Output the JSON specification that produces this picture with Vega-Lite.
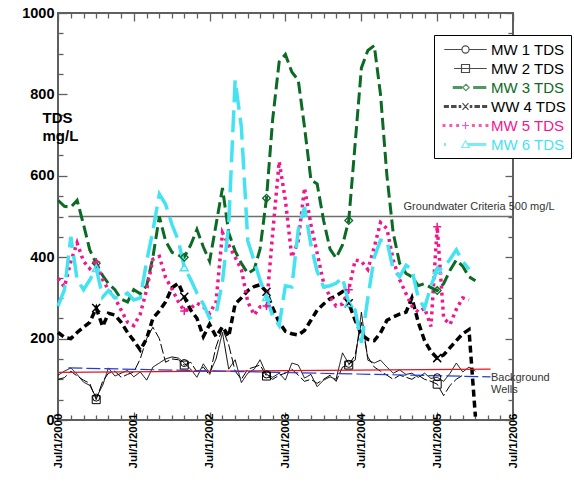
{
"$schema":"https://vega.github.io/schema/vega-lite/v6.json",
"width":455,"height":407,
"autosize":{"type":"none"},
"padding":{"left":58,"top":13,"right":61,"bottom":62},
"datasets":{
"tds":[
{"well":"MW 1 TDS","date":"2000-07-01","tds":110},{"well":"MW 1 TDS","date":"2000-08-01","tds":120},{"well":"MW 1 TDS","date":"2000-09-01","tds":128},{"well":"MW 1 TDS","date":"2000-10-01","tds":112},{"well":"MW 1 TDS","date":"2000-11-01","tds":93},{"well":"MW 1 TDS","date":"2000-12-01","tds":85},
{"well":"MW 1 TDS","date":"2001-01-01","tds":55},{"well":"MW 1 TDS","date":"2001-02-01","tds":85},{"well":"MW 1 TDS","date":"2001-03-01","tds":128},{"well":"MW 1 TDS","date":"2001-04-01","tds":108},{"well":"MW 1 TDS","date":"2001-05-01","tds":115},{"well":"MW 1 TDS","date":"2001-06-01","tds":122},{"well":"MW 1 TDS","date":"2001-07-01","tds":106},{"well":"MW 1 TDS","date":"2001-08-01","tds":118},{"well":"MW 1 TDS","date":"2001-09-01","tds":98},{"well":"MW 1 TDS","date":"2001-10-01","tds":130},{"well":"MW 1 TDS","date":"2001-11-01","tds":140},{"well":"MW 1 TDS","date":"2001-12-01","tds":150},
{"well":"MW 1 TDS","date":"2002-01-01","tds":155},{"well":"MW 1 TDS","date":"2002-02-01","tds":152},{"well":"MW 1 TDS","date":"2002-03-01","tds":140},{"well":"MW 1 TDS","date":"2002-04-01","tds":125},{"well":"MW 1 TDS","date":"2002-05-01","tds":105},{"well":"MW 1 TDS","date":"2002-06-01","tds":138},{"well":"MW 1 TDS","date":"2002-07-01","tds":115},{"well":"MW 1 TDS","date":"2002-08-01","tds":150},{"well":"MW 1 TDS","date":"2002-09-01","tds":215},{"well":"MW 1 TDS","date":"2002-10-01","tds":125},{"well":"MW 1 TDS","date":"2002-11-01","tds":148},{"well":"MW 1 TDS","date":"2002-12-01","tds":92},
{"well":"MW 1 TDS","date":"2003-01-01","tds":115},{"well":"MW 1 TDS","date":"2003-02-01","tds":125},{"well":"MW 1 TDS","date":"2003-03-01","tds":148},{"well":"MW 1 TDS","date":"2003-04-01","tds":112},{"well":"MW 1 TDS","date":"2003-05-01","tds":105},{"well":"MW 1 TDS","date":"2003-06-01","tds":115},{"well":"MW 1 TDS","date":"2003-07-01","tds":98},{"well":"MW 1 TDS","date":"2003-08-01","tds":140},{"well":"MW 1 TDS","date":"2003-09-01","tds":135},{"well":"MW 1 TDS","date":"2003-10-01","tds":103},{"well":"MW 1 TDS","date":"2003-11-01","tds":112},{"well":"MW 1 TDS","date":"2003-12-01","tds":82},
{"well":"MW 1 TDS","date":"2004-01-01","tds":98},{"well":"MW 1 TDS","date":"2004-02-01","tds":106},{"well":"MW 1 TDS","date":"2004-03-01","tds":100},{"well":"MW 1 TDS","date":"2004-04-01","tds":165},{"well":"MW 1 TDS","date":"2004-05-01","tds":138},{"well":"MW 1 TDS","date":"2004-06-01","tds":147},{"well":"MW 1 TDS","date":"2004-07-01","tds":265},{"well":"MW 1 TDS","date":"2004-08-01","tds":147},{"well":"MW 1 TDS","date":"2004-09-01","tds":140},{"well":"MW 1 TDS","date":"2004-10-01","tds":147},{"well":"MW 1 TDS","date":"2004-11-01","tds":130},{"well":"MW 1 TDS","date":"2004-12-01","tds":115},
{"well":"MW 1 TDS","date":"2005-01-01","tds":123},{"well":"MW 1 TDS","date":"2005-02-01","tds":112},{"well":"MW 1 TDS","date":"2005-03-01","tds":115},{"well":"MW 1 TDS","date":"2005-04-01","tds":105},{"well":"MW 1 TDS","date":"2005-05-01","tds":115},{"well":"MW 1 TDS","date":"2005-06-01","tds":102},{"well":"MW 1 TDS","date":"2005-07-01","tds":105},{"well":"MW 1 TDS","date":"2005-08-01","tds":95},{"well":"MW 1 TDS","date":"2005-09-01","tds":115},{"well":"MW 1 TDS","date":"2005-10-01","tds":140},{"well":"MW 1 TDS","date":"2005-11-01","tds":118},{"well":"MW 1 TDS","date":"2005-12-01","tds":130},{"well":"MW 1 TDS","date":"2006-01-01","tds":120},

{"well":"MW 2 TDS","date":"2000-07-01","tds":100},{"well":"MW 2 TDS","date":"2000-08-01","tds":104},{"well":"MW 2 TDS","date":"2000-09-01","tds":120},{"well":"MW 2 TDS","date":"2000-10-01","tds":108},{"well":"MW 2 TDS","date":"2000-11-01","tds":98},{"well":"MW 2 TDS","date":"2000-12-01","tds":90},
{"well":"MW 2 TDS","date":"2001-01-01","tds":50},{"well":"MW 2 TDS","date":"2001-02-01","tds":95},{"well":"MW 2 TDS","date":"2001-03-01","tds":115},{"well":"MW 2 TDS","date":"2001-04-01","tds":120},{"well":"MW 2 TDS","date":"2001-05-01","tds":105},{"well":"MW 2 TDS","date":"2001-06-01","tds":112},{"well":"MW 2 TDS","date":"2001-07-01","tds":118},{"well":"MW 2 TDS","date":"2001-08-01","tds":150},{"well":"MW 2 TDS","date":"2001-09-01","tds":200},{"well":"MW 2 TDS","date":"2001-10-01","tds":228},{"well":"MW 2 TDS","date":"2001-11-01","tds":200},{"well":"MW 2 TDS","date":"2001-12-01","tds":142},
{"well":"MW 2 TDS","date":"2002-01-01","tds":150},{"well":"MW 2 TDS","date":"2002-02-01","tds":148},{"well":"MW 2 TDS","date":"2002-03-01","tds":135},{"well":"MW 2 TDS","date":"2002-04-01","tds":142},{"well":"MW 2 TDS","date":"2002-05-01","tds":118},{"well":"MW 2 TDS","date":"2002-06-01","tds":130},{"well":"MW 2 TDS","date":"2002-07-01","tds":110},{"well":"MW 2 TDS","date":"2002-08-01","tds":180},{"well":"MW 2 TDS","date":"2002-09-01","tds":225},{"well":"MW 2 TDS","date":"2002-10-01","tds":185},{"well":"MW 2 TDS","date":"2002-11-01","tds":120},{"well":"MW 2 TDS","date":"2002-12-01","tds":100},
{"well":"MW 2 TDS","date":"2003-01-01","tds":125},{"well":"MW 2 TDS","date":"2003-02-01","tds":130},{"well":"MW 2 TDS","date":"2003-03-01","tds":135},{"well":"MW 2 TDS","date":"2003-04-01","tds":108},{"well":"MW 2 TDS","date":"2003-05-01","tds":100},{"well":"MW 2 TDS","date":"2003-06-01","tds":110},{"well":"MW 2 TDS","date":"2003-07-01","tds":115},{"well":"MW 2 TDS","date":"2003-08-01","tds":125},{"well":"MW 2 TDS","date":"2003-09-01","tds":110},{"well":"MW 2 TDS","date":"2003-10-01","tds":95},{"well":"MW 2 TDS","date":"2003-11-01","tds":100},{"well":"MW 2 TDS","date":"2003-12-01","tds":90},
{"well":"MW 2 TDS","date":"2004-01-01","tds":100},{"well":"MW 2 TDS","date":"2004-02-01","tds":110},{"well":"MW 2 TDS","date":"2004-03-01","tds":95},{"well":"MW 2 TDS","date":"2004-04-01","tds":130},{"well":"MW 2 TDS","date":"2004-05-01","tds":135},{"well":"MW 2 TDS","date":"2004-06-01","tds":160},{"well":"MW 2 TDS","date":"2004-07-01","tds":240},{"well":"MW 2 TDS","date":"2004-08-01","tds":155},{"well":"MW 2 TDS","date":"2004-09-01","tds":130},{"well":"MW 2 TDS","date":"2004-10-01","tds":120},{"well":"MW 2 TDS","date":"2004-11-01","tds":110},{"well":"MW 2 TDS","date":"2004-12-01","tds":100},
{"well":"MW 2 TDS","date":"2005-01-01","tds":110},{"well":"MW 2 TDS","date":"2005-02-01","tds":105},{"well":"MW 2 TDS","date":"2005-03-01","tds":100},{"well":"MW 2 TDS","date":"2005-04-01","tds":110},{"well":"MW 2 TDS","date":"2005-05-01","tds":100},{"well":"MW 2 TDS","date":"2005-06-01","tds":95},{"well":"MW 2 TDS","date":"2005-07-01","tds":88},{"well":"MW 2 TDS","date":"2005-08-01","tds":60},{"well":"MW 2 TDS","date":"2005-09-01","tds":85},{"well":"MW 2 TDS","date":"2005-10-01","tds":100},{"well":"MW 2 TDS","date":"2005-11-01","tds":110},

{"well":"MW 3 TDS","date":"2000-07-01","tds":540},{"well":"MW 3 TDS","date":"2000-08-01","tds":525},{"well":"MW 3 TDS","date":"2000-09-01","tds":523},{"well":"MW 3 TDS","date":"2000-10-01","tds":540},{"well":"MW 3 TDS","date":"2000-11-01","tds":480},{"well":"MW 3 TDS","date":"2000-12-01","tds":418},
{"well":"MW 3 TDS","date":"2001-01-01","tds":385},{"well":"MW 3 TDS","date":"2001-02-01","tds":355},{"well":"MW 3 TDS","date":"2001-03-01","tds":335},{"well":"MW 3 TDS","date":"2001-04-01","tds":320},{"well":"MW 3 TDS","date":"2001-05-01","tds":297},{"well":"MW 3 TDS","date":"2001-06-01","tds":290},{"well":"MW 3 TDS","date":"2001-07-01","tds":320},{"well":"MW 3 TDS","date":"2001-08-01","tds":310},{"well":"MW 3 TDS","date":"2001-09-01","tds":330},{"well":"MW 3 TDS","date":"2001-10-01","tds":400},{"well":"MW 3 TDS","date":"2001-11-01","tds":500},{"well":"MW 3 TDS","date":"2001-12-01","tds":440},
{"well":"MW 3 TDS","date":"2002-01-01","tds":412},{"well":"MW 3 TDS","date":"2002-02-01","tds":405},{"well":"MW 3 TDS","date":"2002-03-01","tds":400},{"well":"MW 3 TDS","date":"2002-04-01","tds":430},{"well":"MW 3 TDS","date":"2002-05-01","tds":468},{"well":"MW 3 TDS","date":"2002-06-01","tds":425},{"well":"MW 3 TDS","date":"2002-07-01","tds":390},{"well":"MW 3 TDS","date":"2002-08-01","tds":480},{"well":"MW 3 TDS","date":"2002-09-01","tds":570},{"well":"MW 3 TDS","date":"2002-10-01","tds":460},{"well":"MW 3 TDS","date":"2002-11-01","tds":415},{"well":"MW 3 TDS","date":"2002-12-01","tds":385},
{"well":"MW 3 TDS","date":"2003-01-01","tds":360},{"well":"MW 3 TDS","date":"2003-02-01","tds":370},{"well":"MW 3 TDS","date":"2003-03-01","tds":420},{"well":"MW 3 TDS","date":"2003-04-01","tds":545},{"well":"MW 3 TDS","date":"2003-05-01","tds":740},{"well":"MW 3 TDS","date":"2003-06-01","tds":880},{"well":"MW 3 TDS","date":"2003-07-01","tds":898},{"well":"MW 3 TDS","date":"2003-08-01","tds":855},{"well":"MW 3 TDS","date":"2003-09-01","tds":835},{"well":"MW 3 TDS","date":"2003-10-01","tds":720},{"well":"MW 3 TDS","date":"2003-11-01","tds":590},{"well":"MW 3 TDS","date":"2003-12-01","tds":580},
{"well":"MW 3 TDS","date":"2004-01-01","tds":490},{"well":"MW 3 TDS","date":"2004-02-01","tds":420},{"well":"MW 3 TDS","date":"2004-03-01","tds":398},{"well":"MW 3 TDS","date":"2004-04-01","tds":430},{"well":"MW 3 TDS","date":"2004-05-01","tds":490},{"well":"MW 3 TDS","date":"2004-06-01","tds":680},{"well":"MW 3 TDS","date":"2004-07-01","tds":865},{"well":"MW 3 TDS","date":"2004-08-01","tds":908},{"well":"MW 3 TDS","date":"2004-09-01","tds":920},{"well":"MW 3 TDS","date":"2004-10-01","tds":800},{"well":"MW 3 TDS","date":"2004-11-01","tds":600},{"well":"MW 3 TDS","date":"2004-12-01","tds":460},
{"well":"MW 3 TDS","date":"2005-01-01","tds":385},{"well":"MW 3 TDS","date":"2005-02-01","tds":360},{"well":"MW 3 TDS","date":"2005-03-01","tds":352},{"well":"MW 3 TDS","date":"2005-04-01","tds":330},{"well":"MW 3 TDS","date":"2005-05-01","tds":335},{"well":"MW 3 TDS","date":"2005-06-01","tds":325},{"well":"MW 3 TDS","date":"2005-07-01","tds":318},{"well":"MW 3 TDS","date":"2005-08-01","tds":335},{"well":"MW 3 TDS","date":"2005-09-01","tds":368},{"well":"MW 3 TDS","date":"2005-10-01","tds":393},{"well":"MW 3 TDS","date":"2005-11-01","tds":378},{"well":"MW 3 TDS","date":"2005-12-01","tds":352},{"well":"MW 3 TDS","date":"2006-01-01","tds":342},

{"well":"WW 4 TDS","date":"2000-07-01","tds":215},{"well":"WW 4 TDS","date":"2000-08-01","tds":203},{"well":"WW 4 TDS","date":"2000-09-01","tds":200},{"well":"WW 4 TDS","date":"2000-10-01","tds":215},{"well":"WW 4 TDS","date":"2000-11-01","tds":228},{"well":"WW 4 TDS","date":"2000-12-01","tds":240},
{"well":"WW 4 TDS","date":"2001-01-01","tds":275},{"well":"WW 4 TDS","date":"2001-02-01","tds":230},{"well":"WW 4 TDS","date":"2001-03-01","tds":262},{"well":"WW 4 TDS","date":"2001-04-01","tds":258},{"well":"WW 4 TDS","date":"2001-05-01","tds":240},{"well":"WW 4 TDS","date":"2001-06-01","tds":215},{"well":"WW 4 TDS","date":"2001-07-01","tds":195},{"well":"WW 4 TDS","date":"2001-08-01","tds":172},{"well":"WW 4 TDS","date":"2001-09-01","tds":200},{"well":"WW 4 TDS","date":"2001-10-01","tds":250},{"well":"WW 4 TDS","date":"2001-11-01","tds":268},{"well":"WW 4 TDS","date":"2001-12-01","tds":290},
{"well":"WW 4 TDS","date":"2002-01-01","tds":325},{"well":"WW 4 TDS","date":"2002-02-01","tds":336},{"well":"WW 4 TDS","date":"2002-03-01","tds":303},{"well":"WW 4 TDS","date":"2002-04-01","tds":270},{"well":"WW 4 TDS","date":"2002-05-01","tds":250},{"well":"WW 4 TDS","date":"2002-06-01","tds":205},{"well":"WW 4 TDS","date":"2002-07-01","tds":235},{"well":"WW 4 TDS","date":"2002-08-01","tds":205},{"well":"WW 4 TDS","date":"2002-09-01","tds":229},{"well":"WW 4 TDS","date":"2002-10-01","tds":205},{"well":"WW 4 TDS","date":"2002-11-01","tds":285},{"well":"WW 4 TDS","date":"2002-12-01","tds":300},
{"well":"WW 4 TDS","date":"2003-01-01","tds":318},{"well":"WW 4 TDS","date":"2003-02-01","tds":328},{"well":"WW 4 TDS","date":"2003-03-01","tds":332},{"well":"WW 4 TDS","date":"2003-04-01","tds":315},{"well":"WW 4 TDS","date":"2003-05-01","tds":275},{"well":"WW 4 TDS","date":"2003-06-01","tds":240},{"well":"WW 4 TDS","date":"2003-07-01","tds":218},{"well":"WW 4 TDS","date":"2003-08-01","tds":212},{"well":"WW 4 TDS","date":"2003-09-01","tds":209},{"well":"WW 4 TDS","date":"2003-10-01","tds":220},{"well":"WW 4 TDS","date":"2003-11-01","tds":245},{"well":"WW 4 TDS","date":"2003-12-01","tds":270},
{"well":"WW 4 TDS","date":"2004-01-01","tds":285},{"well":"WW 4 TDS","date":"2004-02-01","tds":298},{"well":"WW 4 TDS","date":"2004-03-01","tds":305},{"well":"WW 4 TDS","date":"2004-04-01","tds":315},{"well":"WW 4 TDS","date":"2004-05-01","tds":287},{"well":"WW 4 TDS","date":"2004-06-01","tds":245},{"well":"WW 4 TDS","date":"2004-07-01","tds":210},{"well":"WW 4 TDS","date":"2004-08-01","tds":198},{"well":"WW 4 TDS","date":"2004-09-01","tds":195},{"well":"WW 4 TDS","date":"2004-10-01","tds":214},{"well":"WW 4 TDS","date":"2004-11-01","tds":245},{"well":"WW 4 TDS","date":"2004-12-01","tds":253},
{"well":"WW 4 TDS","date":"2005-01-01","tds":260},{"well":"WW 4 TDS","date":"2005-02-01","tds":265},{"well":"WW 4 TDS","date":"2005-03-01","tds":300},{"well":"WW 4 TDS","date":"2005-04-01","tds":240},{"well":"WW 4 TDS","date":"2005-05-01","tds":195},{"well":"WW 4 TDS","date":"2005-06-01","tds":168},{"well":"WW 4 TDS","date":"2005-07-01","tds":152},{"well":"WW 4 TDS","date":"2005-08-01","tds":160},{"well":"WW 4 TDS","date":"2005-09-01","tds":178},{"well":"WW 4 TDS","date":"2005-10-01","tds":195},{"well":"WW 4 TDS","date":"2005-11-01","tds":212},{"well":"WW 4 TDS","date":"2005-12-01","tds":222},{"well":"WW 4 TDS","date":"2006-01-01","tds":8},

{"well":"MW 5 TDS","date":"2000-07-01","tds":348},{"well":"MW 5 TDS","date":"2000-08-01","tds":327},{"well":"MW 5 TDS","date":"2000-09-01","tds":390},{"well":"MW 5 TDS","date":"2000-10-01","tds":435},{"well":"MW 5 TDS","date":"2000-11-01","tds":390},{"well":"MW 5 TDS","date":"2000-12-01","tds":372},
{"well":"MW 5 TDS","date":"2001-01-01","tds":388},{"well":"MW 5 TDS","date":"2001-02-01","tds":345},{"well":"MW 5 TDS","date":"2001-03-01","tds":320},{"well":"MW 5 TDS","date":"2001-04-01","tds":300},{"well":"MW 5 TDS","date":"2001-05-01","tds":270},{"well":"MW 5 TDS","date":"2001-06-01","tds":240},{"well":"MW 5 TDS","date":"2001-07-01","tds":232},{"well":"MW 5 TDS","date":"2001-08-01","tds":260},{"well":"MW 5 TDS","date":"2001-09-01","tds":320},{"well":"MW 5 TDS","date":"2001-10-01","tds":395},{"well":"MW 5 TDS","date":"2001-11-01","tds":402},{"well":"MW 5 TDS","date":"2001-12-01","tds":350},
{"well":"MW 5 TDS","date":"2002-01-01","tds":322},{"well":"MW 5 TDS","date":"2002-02-01","tds":290},{"well":"MW 5 TDS","date":"2002-03-01","tds":268},{"well":"MW 5 TDS","date":"2002-04-01","tds":275},{"well":"MW 5 TDS","date":"2002-05-01","tds":287},{"well":"MW 5 TDS","date":"2002-06-01","tds":278},{"well":"MW 5 TDS","date":"2002-07-01","tds":262},{"well":"MW 5 TDS","date":"2002-08-01","tds":290},{"well":"MW 5 TDS","date":"2002-09-01","tds":460},{"well":"MW 5 TDS","date":"2002-10-01","tds":430},{"well":"MW 5 TDS","date":"2002-11-01","tds":400},{"well":"MW 5 TDS","date":"2002-12-01","tds":370},
{"well":"MW 5 TDS","date":"2003-01-01","tds":290},{"well":"MW 5 TDS","date":"2003-02-01","tds":258},{"well":"MW 5 TDS","date":"2003-03-01","tds":278},{"well":"MW 5 TDS","date":"2003-04-01","tds":280},{"well":"MW 5 TDS","date":"2003-05-01","tds":460},{"well":"MW 5 TDS","date":"2003-06-01","tds":635},{"well":"MW 5 TDS","date":"2003-07-01","tds":540},{"well":"MW 5 TDS","date":"2003-08-01","tds":400},{"well":"MW 5 TDS","date":"2003-09-01","tds":440},{"well":"MW 5 TDS","date":"2003-10-01","tds":570},{"well":"MW 5 TDS","date":"2003-11-01","tds":480},{"well":"MW 5 TDS","date":"2003-12-01","tds":410},
{"well":"MW 5 TDS","date":"2004-01-01","tds":337},{"well":"MW 5 TDS","date":"2004-02-01","tds":302},{"well":"MW 5 TDS","date":"2004-03-01","tds":280},{"well":"MW 5 TDS","date":"2004-04-01","tds":285},{"well":"MW 5 TDS","date":"2004-05-01","tds":320},{"well":"MW 5 TDS","date":"2004-06-01","tds":393},{"well":"MW 5 TDS","date":"2004-07-01","tds":390},{"well":"MW 5 TDS","date":"2004-08-01","tds":370},{"well":"MW 5 TDS","date":"2004-09-01","tds":425},{"well":"MW 5 TDS","date":"2004-10-01","tds":485},{"well":"MW 5 TDS","date":"2004-11-01","tds":470},{"well":"MW 5 TDS","date":"2004-12-01","tds":393},
{"well":"MW 5 TDS","date":"2005-01-01","tds":345},{"well":"MW 5 TDS","date":"2005-02-01","tds":310},{"well":"MW 5 TDS","date":"2005-03-01","tds":280},{"well":"MW 5 TDS","date":"2005-04-01","tds":265},{"well":"MW 5 TDS","date":"2005-05-01","tds":275},{"well":"MW 5 TDS","date":"2005-06-01","tds":230},{"well":"MW 5 TDS","date":"2005-07-01","tds":475},{"well":"MW 5 TDS","date":"2005-08-01","tds":250},{"well":"MW 5 TDS","date":"2005-09-01","tds":235},{"well":"MW 5 TDS","date":"2005-10-01","tds":272},{"well":"MW 5 TDS","date":"2005-11-01","tds":300},{"well":"MW 5 TDS","date":"2005-12-01","tds":295},

{"well":"MW 6 TDS","date":"2000-07-01","tds":280},{"well":"MW 6 TDS","date":"2000-08-01","tds":320},{"well":"MW 6 TDS","date":"2000-09-01","tds":450},{"well":"MW 6 TDS","date":"2000-10-01","tds":345},{"well":"MW 6 TDS","date":"2000-11-01","tds":320},{"well":"MW 6 TDS","date":"2000-12-01","tds":344},
{"well":"MW 6 TDS","date":"2001-01-01","tds":373},{"well":"MW 6 TDS","date":"2001-02-01","tds":302},{"well":"MW 6 TDS","date":"2001-03-01","tds":318},{"well":"MW 6 TDS","date":"2001-04-01","tds":300},{"well":"MW 6 TDS","date":"2001-05-01","tds":302},{"well":"MW 6 TDS","date":"2001-06-01","tds":312},{"well":"MW 6 TDS","date":"2001-07-01","tds":295},{"well":"MW 6 TDS","date":"2001-08-01","tds":300},{"well":"MW 6 TDS","date":"2001-09-01","tds":390},{"well":"MW 6 TDS","date":"2001-10-01","tds":465},{"well":"MW 6 TDS","date":"2001-11-01","tds":555},{"well":"MW 6 TDS","date":"2001-12-01","tds":530},
{"well":"MW 6 TDS","date":"2002-01-01","tds":480},{"well":"MW 6 TDS","date":"2002-02-01","tds":440},{"well":"MW 6 TDS","date":"2002-03-01","tds":375},{"well":"MW 6 TDS","date":"2002-04-01","tds":345},{"well":"MW 6 TDS","date":"2002-05-01","tds":312},{"well":"MW 6 TDS","date":"2002-06-01","tds":285},{"well":"MW 6 TDS","date":"2002-07-01","tds":250},{"well":"MW 6 TDS","date":"2002-08-01","tds":260},{"well":"MW 6 TDS","date":"2002-09-01","tds":340},{"well":"MW 6 TDS","date":"2002-10-01","tds":480},{"well":"MW 6 TDS","date":"2002-11-01","tds":835},{"well":"MW 6 TDS","date":"2002-12-01","tds":720},
{"well":"MW 6 TDS","date":"2003-01-01","tds":440},{"well":"MW 6 TDS","date":"2003-02-01","tds":390},{"well":"MW 6 TDS","date":"2003-03-01","tds":344},{"well":"MW 6 TDS","date":"2003-04-01","tds":302},{"well":"MW 6 TDS","date":"2003-05-01","tds":255},{"well":"MW 6 TDS","date":"2003-06-01","tds":232},{"well":"MW 6 TDS","date":"2003-07-01","tds":330},{"well":"MW 6 TDS","date":"2003-08-01","tds":327},{"well":"MW 6 TDS","date":"2003-09-01","tds":467},{"well":"MW 6 TDS","date":"2003-10-01","tds":523},{"well":"MW 6 TDS","date":"2003-11-01","tds":430},{"well":"MW 6 TDS","date":"2003-12-01","tds":365},
{"well":"MW 6 TDS","date":"2004-01-01","tds":327},{"well":"MW 6 TDS","date":"2004-02-01","tds":330},{"well":"MW 6 TDS","date":"2004-03-01","tds":336},{"well":"MW 6 TDS","date":"2004-04-01","tds":350},{"well":"MW 6 TDS","date":"2004-05-01","tds":287},{"well":"MW 6 TDS","date":"2004-06-01","tds":270},{"well":"MW 6 TDS","date":"2004-07-01","tds":190},{"well":"MW 6 TDS","date":"2004-08-01","tds":300},{"well":"MW 6 TDS","date":"2004-09-01","tds":400},{"well":"MW 6 TDS","date":"2004-10-01","tds":442},{"well":"MW 6 TDS","date":"2004-11-01","tds":440},{"well":"MW 6 TDS","date":"2004-12-01","tds":370},
{"well":"MW 6 TDS","date":"2005-01-01","tds":352},{"well":"MW 6 TDS","date":"2005-02-01","tds":380},{"well":"MW 6 TDS","date":"2005-03-01","tds":370},{"well":"MW 6 TDS","date":"2005-04-01","tds":300},{"well":"MW 6 TDS","date":"2005-05-01","tds":275},{"well":"MW 6 TDS","date":"2005-06-01","tds":330},{"well":"MW 6 TDS","date":"2005-07-01","tds":369},{"well":"MW 6 TDS","date":"2005-08-01","tds":373},{"well":"MW 6 TDS","date":"2005-09-01","tds":395},{"well":"MW 6 TDS","date":"2005-10-01","tds":418},{"well":"MW 6 TDS","date":"2005-11-01","tds":390},{"well":"MW 6 TDS","date":"2005-12-01","tds":370}
],
"markers":[
{"well":"MW 1 TDS","date":"2001-01-01","tds":55},{"well":"MW 1 TDS","date":"2002-03-01","tds":140},{"well":"MW 1 TDS","date":"2003-04-01","tds":112},{"well":"MW 1 TDS","date":"2004-05-01","tds":138},{"well":"MW 1 TDS","date":"2005-07-01","tds":105},
{"well":"MW 2 TDS","date":"2001-01-01","tds":50},{"well":"MW 2 TDS","date":"2002-03-01","tds":135},{"well":"MW 2 TDS","date":"2003-04-01","tds":108},{"well":"MW 2 TDS","date":"2004-05-01","tds":135},{"well":"MW 2 TDS","date":"2005-07-01","tds":88},
{"well":"MW 3 TDS","date":"2001-01-01","tds":385},{"well":"MW 3 TDS","date":"2002-03-01","tds":400},{"well":"MW 3 TDS","date":"2003-04-01","tds":545},{"well":"MW 3 TDS","date":"2004-05-01","tds":490},{"well":"MW 3 TDS","date":"2005-07-01","tds":318},
{"well":"WW 4 TDS","date":"2001-01-01","tds":275},{"well":"WW 4 TDS","date":"2002-03-01","tds":303},{"well":"WW 4 TDS","date":"2003-04-01","tds":315},{"well":"WW 4 TDS","date":"2004-05-01","tds":287},{"well":"WW 4 TDS","date":"2005-07-01","tds":152},
{"well":"MW 5 TDS","date":"2001-01-01","tds":388},{"well":"MW 5 TDS","date":"2002-03-01","tds":268},{"well":"MW 5 TDS","date":"2003-04-01","tds":280},{"well":"MW 5 TDS","date":"2004-05-01","tds":320},{"well":"MW 5 TDS","date":"2005-07-01","tds":475},
{"well":"MW 6 TDS","date":"2001-01-01","tds":373},{"well":"MW 6 TDS","date":"2002-03-01","tds":375},{"well":"MW 6 TDS","date":"2003-04-01","tds":302},{"well":"MW 6 TDS","date":"2004-05-01","tds":287},{"well":"MW 6 TDS","date":"2005-07-01","tds":369}
]
},
"layer":[
{"data":{"values":[{"start":"2000-08-20","end":"2006-07-01","limit":500}]},
 "mark":{"type":"rule","color":"#6e6e6e","strokeWidth":1.5},
 "encoding":{
  "x":{"field":"start","type":"temporal","scale":{"type":"utc","domain":[{"year":2000,"month":7,"date":1,"utc":true},{"year":2006,"month":7,"date":1,"utc":true}],"nice":false},
       "axis":{"orient":"top","labels":false,"title":null,"tickCount":{"interval":"month","step":2},"tickSize":{"condition":{"test":"utcmonth(datum.value) == 6","value":-8},"value":-5}}},
  "x2":{"field":"end"},
  "y":{"field":"limit","type":"quantitative","scale":{"domain":[0,1000],"nice":false},
       "axis":{"orient":"right","labels":false,"title":null,"values":[0,50,100,150,200,250,300,350,400,450,500,550,600,650,700,750,800,850,900,950,1000],"tickSize":{"condition":{"test":"datum.value % 200 == 0","value":-8},"value":-5}}}
 }},
{"data":{"name":"tds"},
 "mark":{"type":"line","strokeCap":"butt","strokeJoin":"miter"},
 "encoding":{
  "x":{"field":"date","type":"temporal",
       "axis":{"orient":"bottom","title":null,"tickCount":{"interval":"month","step":2},
               "labelExpr":"utcmonth(datum.value) == 6 ? utcFormat(datum.value, '%b/%-d/%Y') : ''",
               "tickSize":{"condition":{"test":"utcmonth(datum.value) == 6","value":-8},"value":-5},
               "labelAngle":-90,"labelFontSize":11.5,"labelFontWeight":"bold","labelColor":"#000","labelPadding":1,"labelOverlap":false,"labelFlush":false,"labelBound":false}},
  "y":{"field":"tds","type":"quantitative",
       "axis":{"orient":"left","values":[0,50,100,150,200,250,300,350,400,450,500,550,600,650,700,750,800,850,900,950,1000],
               "labelExpr":"datum.value % 200 == 0 ? format(datum.value, 'd') : ''",
               "tickSize":{"condition":{"test":"datum.value % 200 == 0","value":-9},"value":-5},
               "labelFontSize":14.5,"labelFontWeight":"bold","labelColor":"#000","labelPadding":13,
               "title":["TDS","mg/L"],"titleAngle":0,"titleAlign":"left","titleBaseline":"top","titleX":-16,"titleY":97,
               "titleFontSize":15,"titleFontWeight":"bold","titleLineHeight":18,"titleColor":"#000"}},
  "color":{"field":"well","type":"nominal","legend":null,
           "scale":{"range":["#000000","#000000","#0b6a23","#f2168c","#45e3f2","#000000"]}},
  "strokeDash":{"field":"well","type":"nominal","legend":null,
           "scale":{"range":[[1,0],[10,3],[12,5],[3,4],[22,8],[7,4]]}},
  "strokeWidth":{"field":"well","type":"ordinal","legend":null,
           "scale":{"type":"ordinal","range":[1,1,3,3.5,3.5,3.5]}}
 }},
{"data":{"values":[{"start":"2000-07-01","end":"2006-03-15","from":117,"to":125}]},
 "mark":{"type":"rule","color":"#e8141c","strokeWidth":1.2},
 "encoding":{"x":{"field":"start","type":"temporal","axis":null},"x2":{"field":"end"},"y":{"field":"from","type":"quantitative","axis":null},"y2":{"field":"to"}}},
{"data":{"values":[{"start":"2000-08-20","end":"2006-03-15","from":128,"to":106}]},
 "mark":{"type":"rule","color":"#1f3fd6","strokeWidth":1.2,"strokeDash":[14,4]},
 "encoding":{"x":{"field":"start","type":"temporal","axis":null},"x2":{"field":"end"},"y":{"field":"from","type":"quantitative","axis":null},"y2":{"field":"to"}}},
{"data":{"name":"markers"},"transform":[{"filter":{"field":"well","equal":"MW 1 TDS"}}],
 "mark":{"type":"point","shape":"circle","size":50,"filled":false,"strokeWidth":1,"opacity":1},
 "encoding":{"x":{"field":"date","type":"temporal","axis":null},"y":{"field":"tds","type":"quantitative","axis":null},"color":{"field":"well","type":"nominal","legend":null}}},
{"data":{"name":"markers"},"transform":[{"filter":{"field":"well","equal":"MW 2 TDS"}}],
 "mark":{"type":"point","shape":"square","size":64,"filled":false,"strokeWidth":1,"opacity":1},
 "encoding":{"x":{"field":"date","type":"temporal","axis":null},"y":{"field":"tds","type":"quantitative","axis":null},"color":{"field":"well","type":"nominal","legend":null}}},
{"data":{"name":"markers"},"transform":[{"filter":{"field":"well","equal":"MW 3 TDS"}}],
 "mark":{"type":"point","shape":"diamond","size":60,"filled":false,"strokeWidth":1.3,"opacity":1},
 "encoding":{"x":{"field":"date","type":"temporal","axis":null},"y":{"field":"tds","type":"quantitative","axis":null},"color":{"field":"well","type":"nominal","legend":null}}},
{"data":{"name":"markers"},"transform":[{"filter":{"field":"well","equal":"WW 4 TDS"}}],
 "mark":{"type":"point","shape":"M-1,-1L1,1M-1,1L1,-1","size":64,"filled":false,"strokeWidth":1.5,"opacity":1},
 "encoding":{"x":{"field":"date","type":"temporal","axis":null},"y":{"field":"tds","type":"quantitative","axis":null},"color":{"field":"well","type":"nominal","legend":null}}},
{"data":{"name":"markers"},"transform":[{"filter":{"field":"well","equal":"MW 5 TDS"}}],
 "mark":{"type":"point","shape":"M-1,0H1M0,-1V1","size":64,"filled":false,"strokeWidth":1.5,"opacity":1},
 "encoding":{"x":{"field":"date","type":"temporal","axis":null},"y":{"field":"tds","type":"quantitative","axis":null},"color":{"field":"well","type":"nominal","legend":null}}},
{"data":{"name":"markers"},"transform":[{"filter":{"field":"well","equal":"MW 6 TDS"}}],
 "mark":{"type":"point","shape":"triangle-up","size":60,"filled":false,"strokeWidth":1.5,"opacity":1},
 "encoding":{"x":{"field":"date","type":"temporal","axis":null},"y":{"field":"tds","type":"quantitative","axis":null},"color":{"field":"well","type":"nominal","legend":null}}},
{"data":{"name":"markers"},"transform":[{"filter":"false"}],
 "mark":{"type":"point","filled":false,"size":289},
 "encoding":{
  "shape":{"field":"well","type":"nominal","title":null,
     "scale":{"domain":["MW 1 TDS","MW 2 TDS","MW 3 TDS","WW 4 TDS","MW 5 TDS","MW 6 TDS"],
              "range":["M-2.5,0H-0.42M0.42,0H2.5M0.42,0A0.42,0.42,0,1,1,-0.42,0A0.42,0.42,0,1,1,0.42,0",
                       "M-1.35,0H-0.47M0.47,0H2.5M-0.47,-0.47H0.47V0.47H-0.47ZM-0.47,0H0.47",
                       "M-1.5,-0.1H-0.38M-1.5,0H-0.38M-1.5,0.1H-0.38M0.9,-0.1H2.45M0.9,0H2.45M0.9,0.1H2.45M0.05,-0.38L0.43,0L0.05,0.38L-0.33,0Z",
                       "M-2.55,-0.1H-1.95M-2.55,0H-1.95M-2.55,0.1H-1.95M-1.7,-0.1H-1.05M-1.7,0H-1.05M-1.7,0.1H-1.05M-0.8,-0.1H-0.5M-0.8,0H-0.5M-0.8,0.1H-0.5M0.5,-0.1H0.8M0.5,0H0.8M0.5,0.1H0.8M1.05,-0.1H1.7M1.05,0H1.7M1.05,0.1H1.7M1.95,-0.1H2.55M1.95,0H2.55M1.95,0.1H2.55M-0.35,-0.4L0.35,0.4M-0.35,0.4L0.35,-0.4",
                       "M-2.7,-0.1H-2.35M-2.7,0H-2.35M-2.7,0.1H-2.35M-1.9,-0.1H-1.55M-1.9,0H-1.55M-1.9,0.1H-1.55M-1.1,-0.1H-0.75M-1.1,0H-0.75M-1.1,0.1H-0.75M0.75,-0.1H1.1M0.75,0H1.1M0.75,0.1H1.1M1.55,-0.1H1.9M1.55,0H1.9M1.55,0.1H1.9M2.35,-0.1H2.7M2.35,0H2.7M2.35,0.1H2.7M-0.4,0H0.4M0,-0.4V0.4",
                       "M-2.55,-0.1H-2.3M-2.55,0H-2.3M-2.55,0.1H-2.3M0.25,-0.1H2.45M0.25,0H2.45M0.25,0.1H2.45M-0.45,0.35L0,-0.45L0.45,0.35Z"]},
     "legend":{"symbolStrokeColor":{"expr":"scale('color', datum.value)"},
               "labelColor":{"expr":"scale('color', datum.value)"}}}
 }},
{"data":{"values":[{"label":"Groundwater Criteria 500 mg/L","date":"2005-01-20","tds":523},{"label":["Background","Wells"],"date":"2006-03-17","tds":102}]},
 "mark":{"type":"text","align":"left","baseline":"middle","fontSize":11,"color":"#333333","lineHeight":12},
 "encoding":{"x":{"field":"date","type":"temporal","axis":null},"y":{"field":"tds","type":"quantitative","axis":null},"text":{"field":"label"}}}
],
"resolve":{"axis":{"x":"independent","y":"independent"}},
"config":{
 "font":"Liberation Sans",
 "view":{"stroke":"#5f5f5f","strokeWidth":2},
 "axis":{"domain":false,"grid":false,"tickColor":"#5f5f5f","tickWidth":1.3,"labelFont":"Liberation Sans","titleFont":"Liberation Sans"},
 "legend":{"orient":"none","legendX":376,"legendY":22,"padding":5,"strokeColor":"#000000","fillColor":"#ffffff",
           "labelFont":"Liberation Sans","labelFontSize":15,"labelOffset":16,"symbolOffset":17,"symbolSize":289,"symbolStrokeWidth":1.2,"rowPadding":1,"symbolFillColor":"transparent"}
}
}
